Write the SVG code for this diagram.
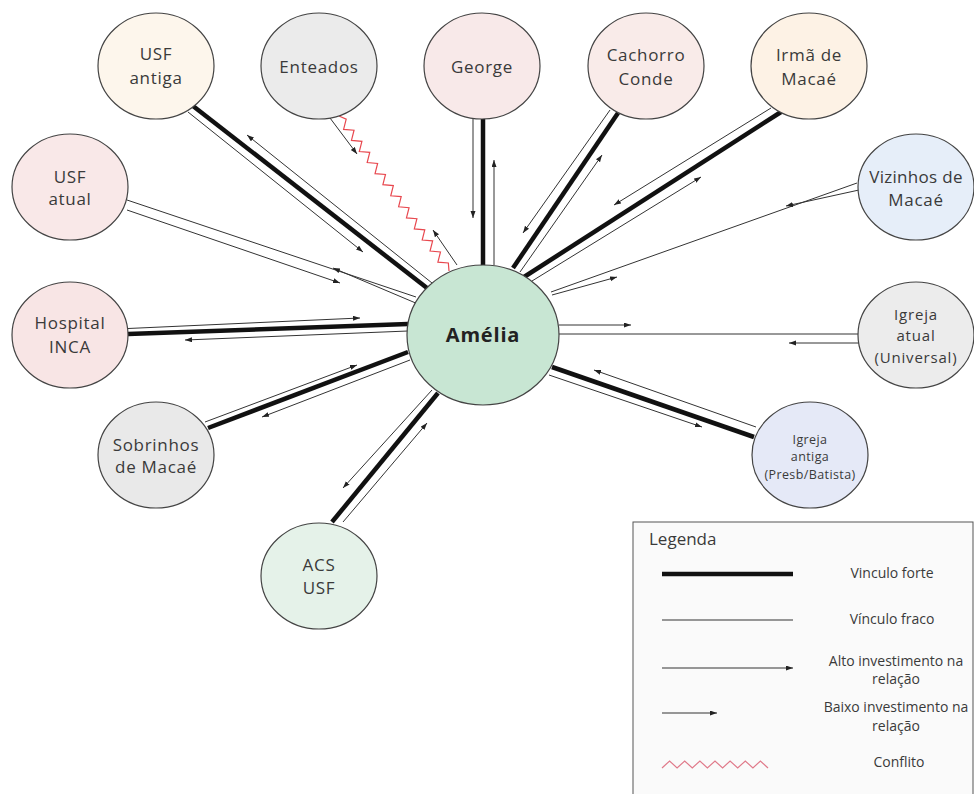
<svg xmlns="http://www.w3.org/2000/svg" width="974" height="794" viewBox="0 0 974 794">
<defs>
<marker id="ah" markerUnits="userSpaceOnUse" markerWidth="8" markerHeight="6" refX="7" refY="2.5" orient="auto">
<path d="M0,0 L7,2.5 L0,5 z" fill="#222"/>
</marker>
<style>
.node ellipse{stroke:#444;stroke-width:1.2}
.lbl{font-family:"Open Sans","Noto Sans",sans-serif;font-size:17px;fill:#3a3a3a;text-anchor:middle;letter-spacing:0.7px}
.thick{stroke:#111;stroke-width:4.5;fill:none}
.thin{stroke:#333;stroke-width:1;fill:none}
.arr{stroke:#333;stroke-width:1;fill:none;marker-end:url(#ah)}
.zig{stroke:#e8484f;stroke-width:1.2;fill:none}
.leg{font-family:"Open Sans","Noto Sans",sans-serif;font-size:14px;fill:#3a3a3a;text-anchor:middle}
</style>
</defs>
<rect width="974" height="794" fill="#ffffff"/>
<g id="connectors">
<!-- USF antiga -->
<line class="thick" x1="193" y1="106" x2="427" y2="288"/>
<line class="arr" x1="188" y1="112" x2="363" y2="252"/>
<line class="arr" x1="432" y1="283" x2="247" y2="135"/>
<!-- Enteados (conflito) -->
<polyline class="zig" points="339,116 346.19,119.21 343.6,129.38 354.05,130.27 351.46,140.44 361.91,141.33 359.31,151.5 369.76,152.39 367.17,162.56 377.62,163.45 375.03,173.62 385.48,174.51 382.89,184.68 393.34,185.57 390.75,195.74 401.2,196.63 398.6,206.8 409.05,207.69 406.46,217.86 416.91,218.75 414.32,228.92 424.77,229.81 422.18,239.98 432.63,240.87 430.04,251.04 440.49,251.93 437.89,262.1 448.34,262.99 449,271"/>
<line class="arr" x1="330" y1="118" x2="357" y2="154"/>
<line class="arr" x1="457" y1="265" x2="433" y2="230"/>
<!-- George -->
<line class="thick" x1="483" y1="118" x2="483" y2="266"/>
<line class="arr" x1="473" y1="119" x2="473" y2="218"/>
<line class="arr" x1="494" y1="265" x2="494" y2="160"/>
<!-- Cachorro Conde -->
<line class="thick" x1="618" y1="113" x2="513" y2="268"/>
<line class="arr" x1="610" y1="110" x2="523" y2="233"/>
<line class="arr" x1="520" y1="272" x2="602" y2="155"/>
<!-- Irmã de Macaé -->
<line class="thick" x1="781" y1="112" x2="524" y2="277"/>
<line class="arr" x1="771" y1="108" x2="614" y2="205"/>
<line class="arr" x1="532" y1="281" x2="701" y2="177"/>
<!-- Vizinhos de Macaé -->
<line class="thin" x1="857" y1="183" x2="551" y2="292"/>
<line class="arr" x1="859" y1="190" x2="786" y2="206"/>
<line class="arr" x1="552" y1="295" x2="617" y2="277"/>
<!-- USF atual -->
<line class="thin" x1="127" y1="200" x2="416" y2="297"/>
<line class="arr" x1="127" y1="210" x2="340" y2="283"/>
<line class="arr" x1="418" y1="304" x2="333" y2="268"/>
<!-- Hospital INCA -->
<line class="thick" x1="128" y1="334" x2="408" y2="324"/>
<line class="arr" x1="128" y1="328.5" x2="360" y2="318"/>
<line class="arr" x1="408" y1="331" x2="185" y2="340"/>
<!-- Sobrinhos de Macaé -->
<line class="thick" x1="208" y1="428" x2="408" y2="352"/>
<line class="arr" x1="205" y1="422" x2="357" y2="365"/>
<line class="arr" x1="410" y1="360" x2="262" y2="417"/>
<!-- ACS USF -->
<line class="thick" x1="332" y1="522" x2="438" y2="393"/>
<line class="arr" x1="432" y1="390" x2="343" y2="488"/>
<line class="arr" x1="343" y1="522" x2="427" y2="423"/>
<!-- Igreja atual -->
<line class="thin" x1="559" y1="334" x2="859" y2="334"/>
<line class="arr" x1="559" y1="325" x2="631" y2="325"/>
<line class="arr" x1="859" y1="343" x2="789" y2="343"/>
<!-- Igreja antiga -->
<line class="thick" x1="552" y1="367" x2="754" y2="437"/>
<line class="arr" x1="756" y1="427" x2="594" y2="370"/>
<line class="arr" x1="549" y1="375" x2="702" y2="427"/>
</g>
<g id="usf-antiga" class="node"><ellipse cx="156" cy="66" rx="58" ry="53" fill="#fdf6ec"/><text class="lbl" x="156" y="60">USF</text><text class="lbl" x="156" y="84">antiga</text></g>
<g id="enteados" class="node"><ellipse cx="319" cy="66" rx="58" ry="53" fill="#ebebeb"/><text class="lbl" x="319" y="73">Enteados</text></g>
<g id="george" class="node"><ellipse cx="482" cy="66" rx="58" ry="53" fill="#f8e9e9"/><text class="lbl" x="482" y="73">George</text></g>
<g id="cachorro-conde" class="node"><ellipse cx="646" cy="66" rx="58" ry="53" fill="#f9ebe9"/><text class="lbl" x="646" y="61">Cachorro</text><text class="lbl" x="646" y="85">Conde</text></g>
<g id="irma-macae" class="node"><ellipse cx="809" cy="66" rx="58" ry="53" fill="#fdf2e5"/><text class="lbl" x="809" y="61">Irmã de</text><text class="lbl" x="809" y="85">Macaé</text></g>
<g id="vizinhos-macae" class="node"><ellipse cx="916" cy="187" rx="58" ry="53" fill="#e6eef9"/><text class="lbl" style="letter-spacing:0.3px" x="916" y="183">Vizinhos de</text><text class="lbl" x="916" y="206">Macaé</text></g>
<g id="usf-atual" class="node"><ellipse cx="70" cy="187" rx="58" ry="53" fill="#f9e8e8"/><text class="lbl" x="70" y="183">USF</text><text class="lbl" x="70" y="205">atual</text></g>
<g id="hospital-inca" class="node"><ellipse cx="70" cy="335" rx="58" ry="53" fill="#f8e5e5"/><text class="lbl" x="70" y="329">Hospital</text><text class="lbl" x="70" y="353">INCA</text></g>
<g id="sobrinhos-macae" class="node"><ellipse cx="156" cy="455" rx="58" ry="53" fill="#e9e9e9"/><text class="lbl" x="156" y="451">Sobrinhos</text><text class="lbl" x="156" y="473">de Macaé</text></g>
<g id="acs-usf" class="node"><ellipse cx="319" cy="576" rx="58" ry="53" fill="#e5f2e9"/><text class="lbl" x="319" y="571">ACS</text><text class="lbl" x="319" y="594">USF</text></g>
<g id="igreja-atual" class="node"><ellipse cx="916" cy="335" rx="58" ry="53" fill="#ececec"/><text class="lbl" style="font-size:15px;letter-spacing:0.8px" x="916" y="320">Igreja</text><text class="lbl" style="font-size:15px;letter-spacing:0.8px" x="916" y="341">atual</text><text class="lbl" style="font-size:15px;letter-spacing:0.8px" x="916" y="363">(Universal)</text></g>
<g id="igreja-antiga" class="node"><ellipse cx="810" cy="455" rx="58" ry="53" fill="#e5e9f7"/><text class="lbl" style="font-size:12.5px;letter-spacing:0.4px" x="810" y="444">Igreja</text><text class="lbl" style="font-size:12.5px;letter-spacing:0.4px" x="810" y="461">antiga</text><text class="lbl" style="font-size:12.5px;letter-spacing:0.4px" x="810" y="479">(Presb/Batista)</text></g>
<g id="amelia" class="node"><ellipse cx="483" cy="335" rx="76" ry="70" fill="#c8e6d3"/><text class="lbl" style="font-size:20px;font-weight:bold;fill:#222;letter-spacing:0.8px" x="483" y="342">Amélia</text></g>
<g id="legenda">
<rect x="633" y="522" width="340" height="280" fill="#fafafa" stroke="#555" stroke-width="1"/>
<text style="font-family:'Open Sans','Noto Sans',sans-serif;font-size:17px;fill:#3a3a3a" x="649" y="545">Legenda</text>
<line class="thick" x1="662" y1="574" x2="793" y2="574"/>
<text class="leg" x="892" y="578">Vinculo forte</text>
<line class="thin" x1="662" y1="620" x2="793" y2="620"/>
<text class="leg" x="892" y="624">Vínculo fraco</text>
<line class="arr" x1="662" y1="668" x2="793" y2="668"/>
<text class="leg" x="896" y="666">Alto investimento na</text>
<text class="leg" x="896" y="684">relação</text>
<line class="arr" x1="662" y1="713" x2="717" y2="713"/>
<text class="leg" x="896" y="712">Baixo investimento na</text>
<text class="leg" x="896" y="731">relação</text>
<polyline class="zig" style="stroke:#e07a8a" points="662,768 669.6,761 677.1,768 684.7,761 692.3,768 699.9,761 707.4,768 715,761 722.6,768 730.1,761 737.7,768 745.3,761 752.9,768 760.4,761 768,768"/>
<text class="leg" x="899" y="767">Conflito</text>
</g>
</svg>
